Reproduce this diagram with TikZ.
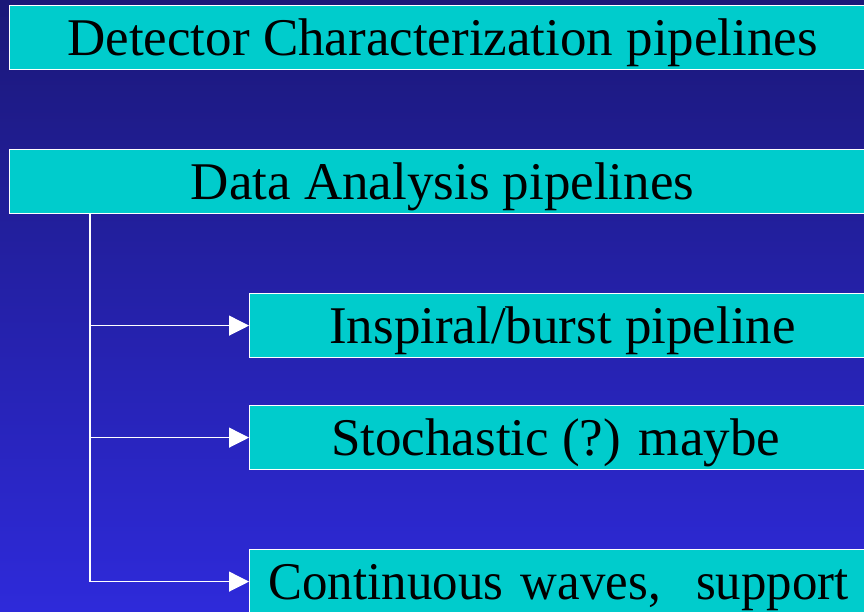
\documentclass[tikz,border=0pt]{standalone}
\usepackage{fontspec}
\setmainfont{Liberation Serif}
\usetikzlibrary{arrows.meta}
\definecolor{navytop}{RGB}{27,24,120}
\definecolor{navybottom}{RGB}{46,42,218}
\definecolor{pipecyan}{RGB}{0,204,204}
\tikzset{
	pipebox/.style={draw=white, line width=1.2pt, fill=pipecyan, minimum height=64pt,
		inner sep=0pt, anchor=north west, text height=36pt, text depth=0pt,
		font=\fontsize{53}{60}\selectfont},
	feed/.style={draw=white, line width=1.2pt, -{Triangle[length=20pt,width=20pt]}},
}
\begin{document}
\begin{tikzpicture}[x=1pt,y=-1pt]
	\shade[top color=navytop, bottom color=navybottom] (0,0) rectangle (864,611);
	\useasboundingbox (0,0) rectangle (864,611);
	\node[pipebox, minimum width=866pt] (detchar) at (9,5) {Detector Characterization pipelines};
	\node[pipebox, minimum width=866pt] (dataana) at (9,149) {Data Analysis pipelines};
	\node[pipebox, minimum width=626pt] (inspiral) at (249,293) {Inspiral/burst pipeline};
	\node[pipebox, minimum width=626pt] (stoch) at (249,405) {Stochastic (?) maybe\hspace*{14pt}};
	\node[pipebox, inner xsep=19pt, text width=607pt, align=left] (cwaves) at (249,549)
		{\addfontfeatures{FakeStretch=0.96}Continuous waves,\ \ support};
	% trunk down from the analysis box
	\coordinate (trunk) at ([xshift=81pt]dataana.south west);
	\draw[white, line width=1.2pt] (trunk) -- (trunk |- cwaves.west);
	\foreach \leaf in {inspiral, stoch, cwaves}
		\draw[feed] (trunk) |- (\leaf.west);
\end{tikzpicture}
\end{document}
